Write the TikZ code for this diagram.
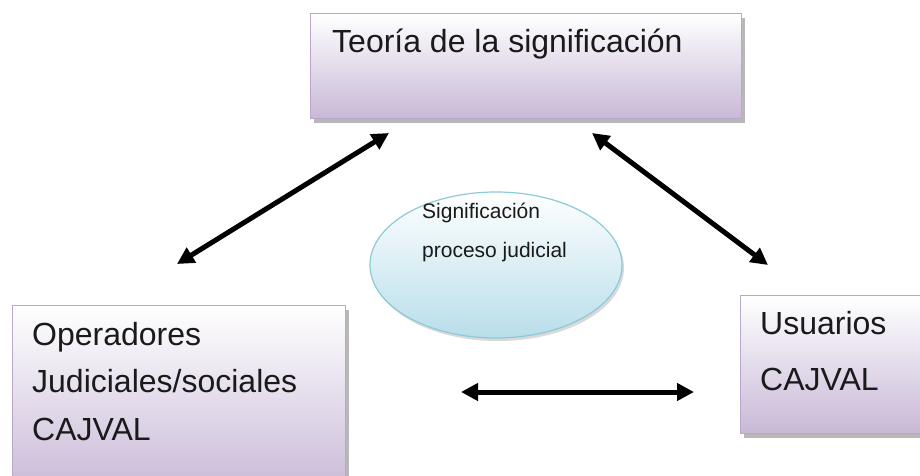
\documentclass[tikz,border=0pt]{standalone}
\usepackage{fontspec}
\setmainfont{Liberation Sans}
\usetikzlibrary{arrows.meta,shadows,shapes.geometric}
\definecolor{boxline}{HTML}{B9A8CC}
\definecolor{boxbot}{HTML}{C8B8D7}
\definecolor{ellline}{HTML}{8CC9DA}
\definecolor{ellbot}{HTML}{B8DEEA}
\definecolor{txt}{HTML}{1A1A1A}
\tikzset{
  box/.style={draw=boxline, line width=1.2pt, top color=white, bottom color=boxbot,
    middle color=boxbot!50, inner sep=0pt, anchor=north west,
    drop shadow={shadow xshift=3pt, shadow yshift=-4pt, fill=black!35, opacity=0.8}},
  ell/.style={ellipse, draw=ellline, line width=1.2pt, top color=white, bottom color=ellbot,
    inner sep=0pt, drop shadow={shadow xshift=2pt, shadow yshift=-3pt, fill=black!25, opacity=0.6}},
  bigtxt/.style={anchor=base west, inner sep=0pt, text=txt, font=\fontsize{32}{38}\selectfont},
  smalltxt/.style={anchor=base west, inner sep=0pt, text=txt, font=\fontsize{21}{25}\selectfont},
  dbl/.style={line width=5pt, {Triangle[length=17pt,width=17pt]}-{Triangle[length=17pt,width=17pt]}}
}
\begin{document}
\begin{tikzpicture}[x=1pt,y=-1pt]
\useasboundingbox (0,0) rectangle (920,476);
\clip (0,0) rectangle (920,476);
% boxes
\node[box, minimum width=431pt, minimum height=105pt] (teoria) at (310,13) {};
\node[box, minimum width=333pt, minimum height=190pt] (operadores) at (12,305) {};
\node[box, minimum width=200pt, minimum height=138pt] (usuarios) at (740,295) {};
\node[ell, minimum width=252pt, minimum height=146pt] (signif) at (496,265) {};
% texts
\node[bigtxt] (t1) at (332,53) {Teoría de la significación};
\node[bigtxt] (o1) at (32,345) {Operadores};
\node[bigtxt] (o2) at (32,392) {Judiciales/sociales};
\node[bigtxt] (o3) at (32,440) {CAJVAL};
\node[bigtxt] (u1) at (760,334) {Usuarios};
\node[bigtxt] (u2) at (760,390) {CAJVAL};
\node[smalltxt] (s1) at (422,218) {Significación};
\node[smalltxt] (s2) at (422,257) {proceso judicial};
% arrow endpoints
\coordinate (a1s) at (177,264);
\coordinate (a1e) at (389,133);
\coordinate (a2s) at (592,133);
\coordinate (a2e) at (768,265);
\coordinate (a3s) at (461,392);
\coordinate (a3e) at (694,392);
\draw[dbl] (a1s) -- (a1e);
\draw[dbl] (a2s) -- (a2e);
\draw[dbl] (a3s) -- (a3e);
\end{tikzpicture}
\end{document}
